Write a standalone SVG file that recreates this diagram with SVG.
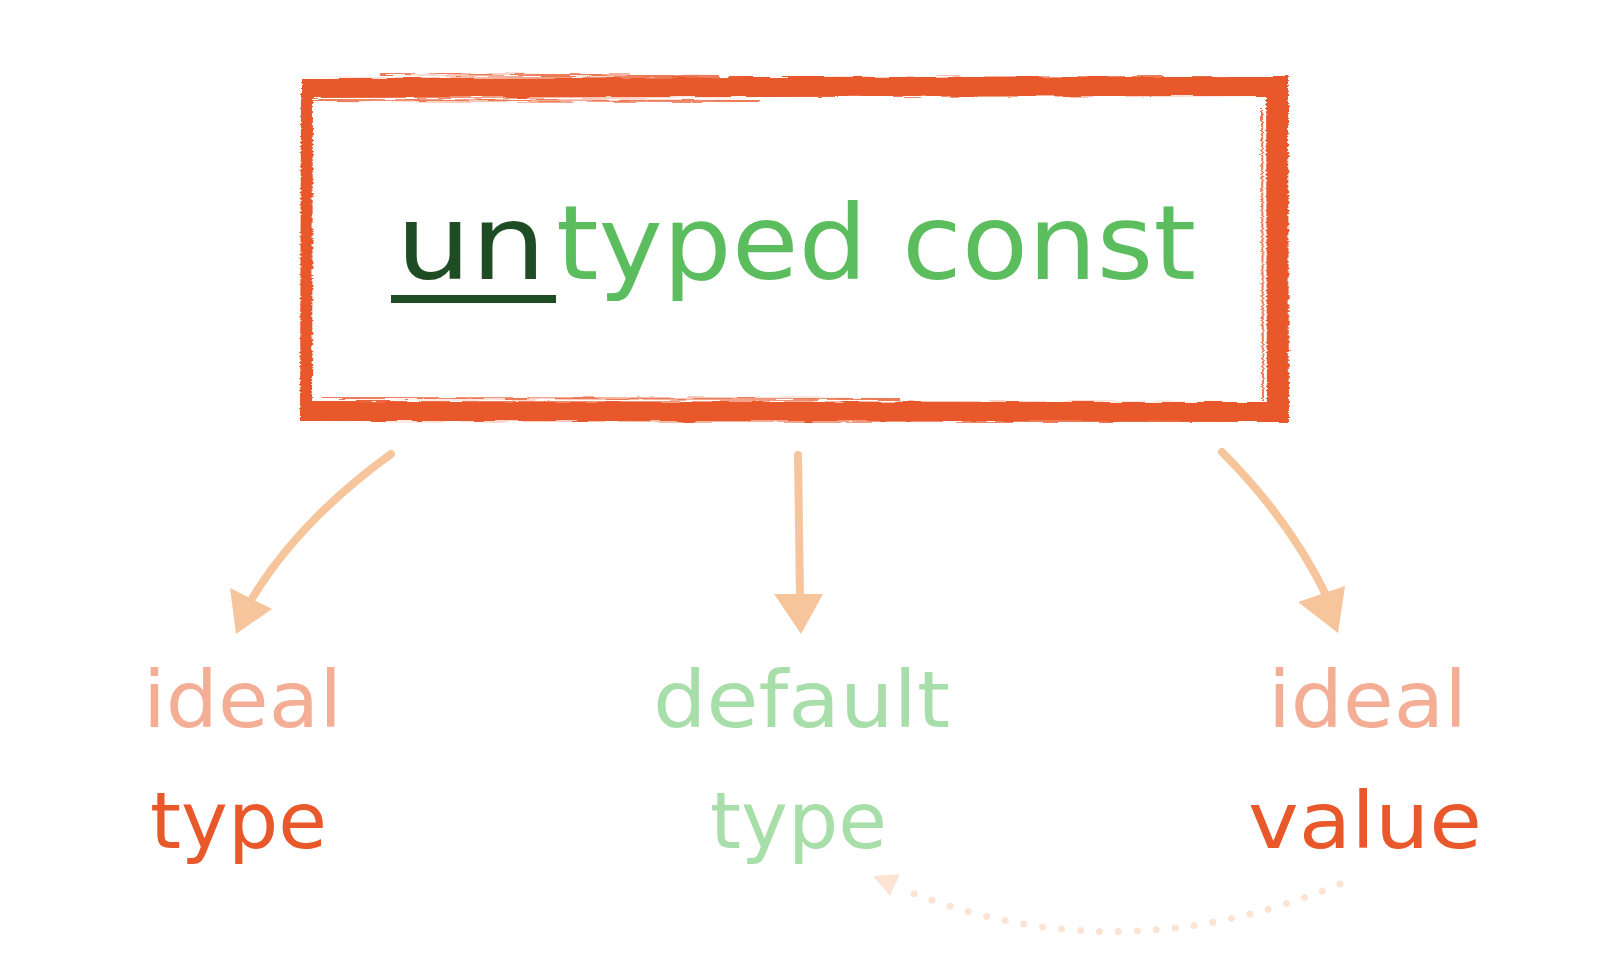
<svg xmlns="http://www.w3.org/2000/svg" width="1600" height="960" viewBox="0 0 1600 960">
<style>
.frame{stroke:#E8582A;fill:none;stroke-linecap:butt}
.streak{stroke:#E8582A;fill:none;stroke-width:2;opacity:0.8}
.lbl{font-family:"DejaVu Sans",sans-serif;font-size:78px}
.title{font-family:"DejaVu Sans",sans-serif;font-size:104px}
.arrow{stroke:#F7C59B;stroke-width:8;fill:none;stroke-linecap:round}
.head{fill:#F7C59B}
.dots{stroke:#FBE4D3;stroke-width:7;fill:none;stroke-linecap:round;stroke-dasharray:0 19}
</style>
<defs>
<filter id="rough" x="-5%" y="-5%" width="110%" height="110%">
<feTurbulence type="fractalNoise" baseFrequency="0.03 0.5" numOctaves="2" seed="3" result="n"/>
<feDisplacementMap in="SourceGraphic" in2="n" scale="5" xChannelSelector="R" yChannelSelector="G"/>
</filter>
</defs>
<rect width="1600" height="960" fill="#FFFFFF"/>
<g id="untyped-const">
<g filter="url(#rough)">
<path class="frame" stroke-width="20" d="M302,88 L1288,86"/>
<path class="frame" stroke-width="22" d="M1277,78 L1278,421"/>
<path class="frame" stroke-width="20" d="M302,411 L1288,412"/>
<path class="frame" stroke-width="12" d="M307,92 L306,421"/>
<path class="streak" d="M312,100 L760,101"/>
<path class="streak" d="M320,398 L900,399"/>
<path class="streak" d="M1262,110 L1263,400"/>
<path class="streak" d="M380,74 L720,76"/>
</g>
<text class="title" x="396" y="279" fill="#1E4D24" textLength="150" lengthAdjust="spacingAndGlyphs">un</text>
<text class="title" x="556" y="279" fill="#5BBD5E" textLength="640" lengthAdjust="spacingAndGlyphs">typed const</text>
<rect x="391" y="295" width="165" height="8" fill="#1E4D24"/>
</g>
<g id="ideal-type">
<text class="lbl" x="143" y="727" fill="#F4AE96" textLength="199" lengthAdjust="spacingAndGlyphs">ideal</text>
<text class="lbl" x="150" y="848" fill="#E8582A" textLength="177" lengthAdjust="spacingAndGlyphs">type</text>
</g>
<g id="default-type">
<text class="lbl" x="653" y="727" fill="#A8DEA9" textLength="297" lengthAdjust="spacingAndGlyphs">default</text>
<text class="lbl" x="710" y="848" fill="#A8DEA9" textLength="177" lengthAdjust="spacingAndGlyphs">type</text>
</g>
<g id="ideal-value">
<text class="lbl" x="1268" y="727" fill="#F4AE96" textLength="199" lengthAdjust="spacingAndGlyphs">ideal</text>
<text class="lbl" x="1248" y="848" fill="#E8582A" textLength="234" lengthAdjust="spacingAndGlyphs">value</text>
</g>
<g id="connectors">
<path class="arrow" d="M391,454 Q300,520 253,597"/>
<polygon class="head" points="230,588 272,609 236,634"/>
<path class="arrow" d="M798,455 L800,597"/>
<polygon class="head" points="774,594 823,594 801,634"/>
<path class="arrow" d="M1222,452 Q1290,520 1327,597"/>
<polygon class="head" points="1298,602 1345,586 1338,633"/>
<path class="dots" d="M1340,884 Q1120,975 910,892"/>
<polygon fill="#FBE4D3" points="873,876 900,874 890,896"/>
</g>
</svg>
